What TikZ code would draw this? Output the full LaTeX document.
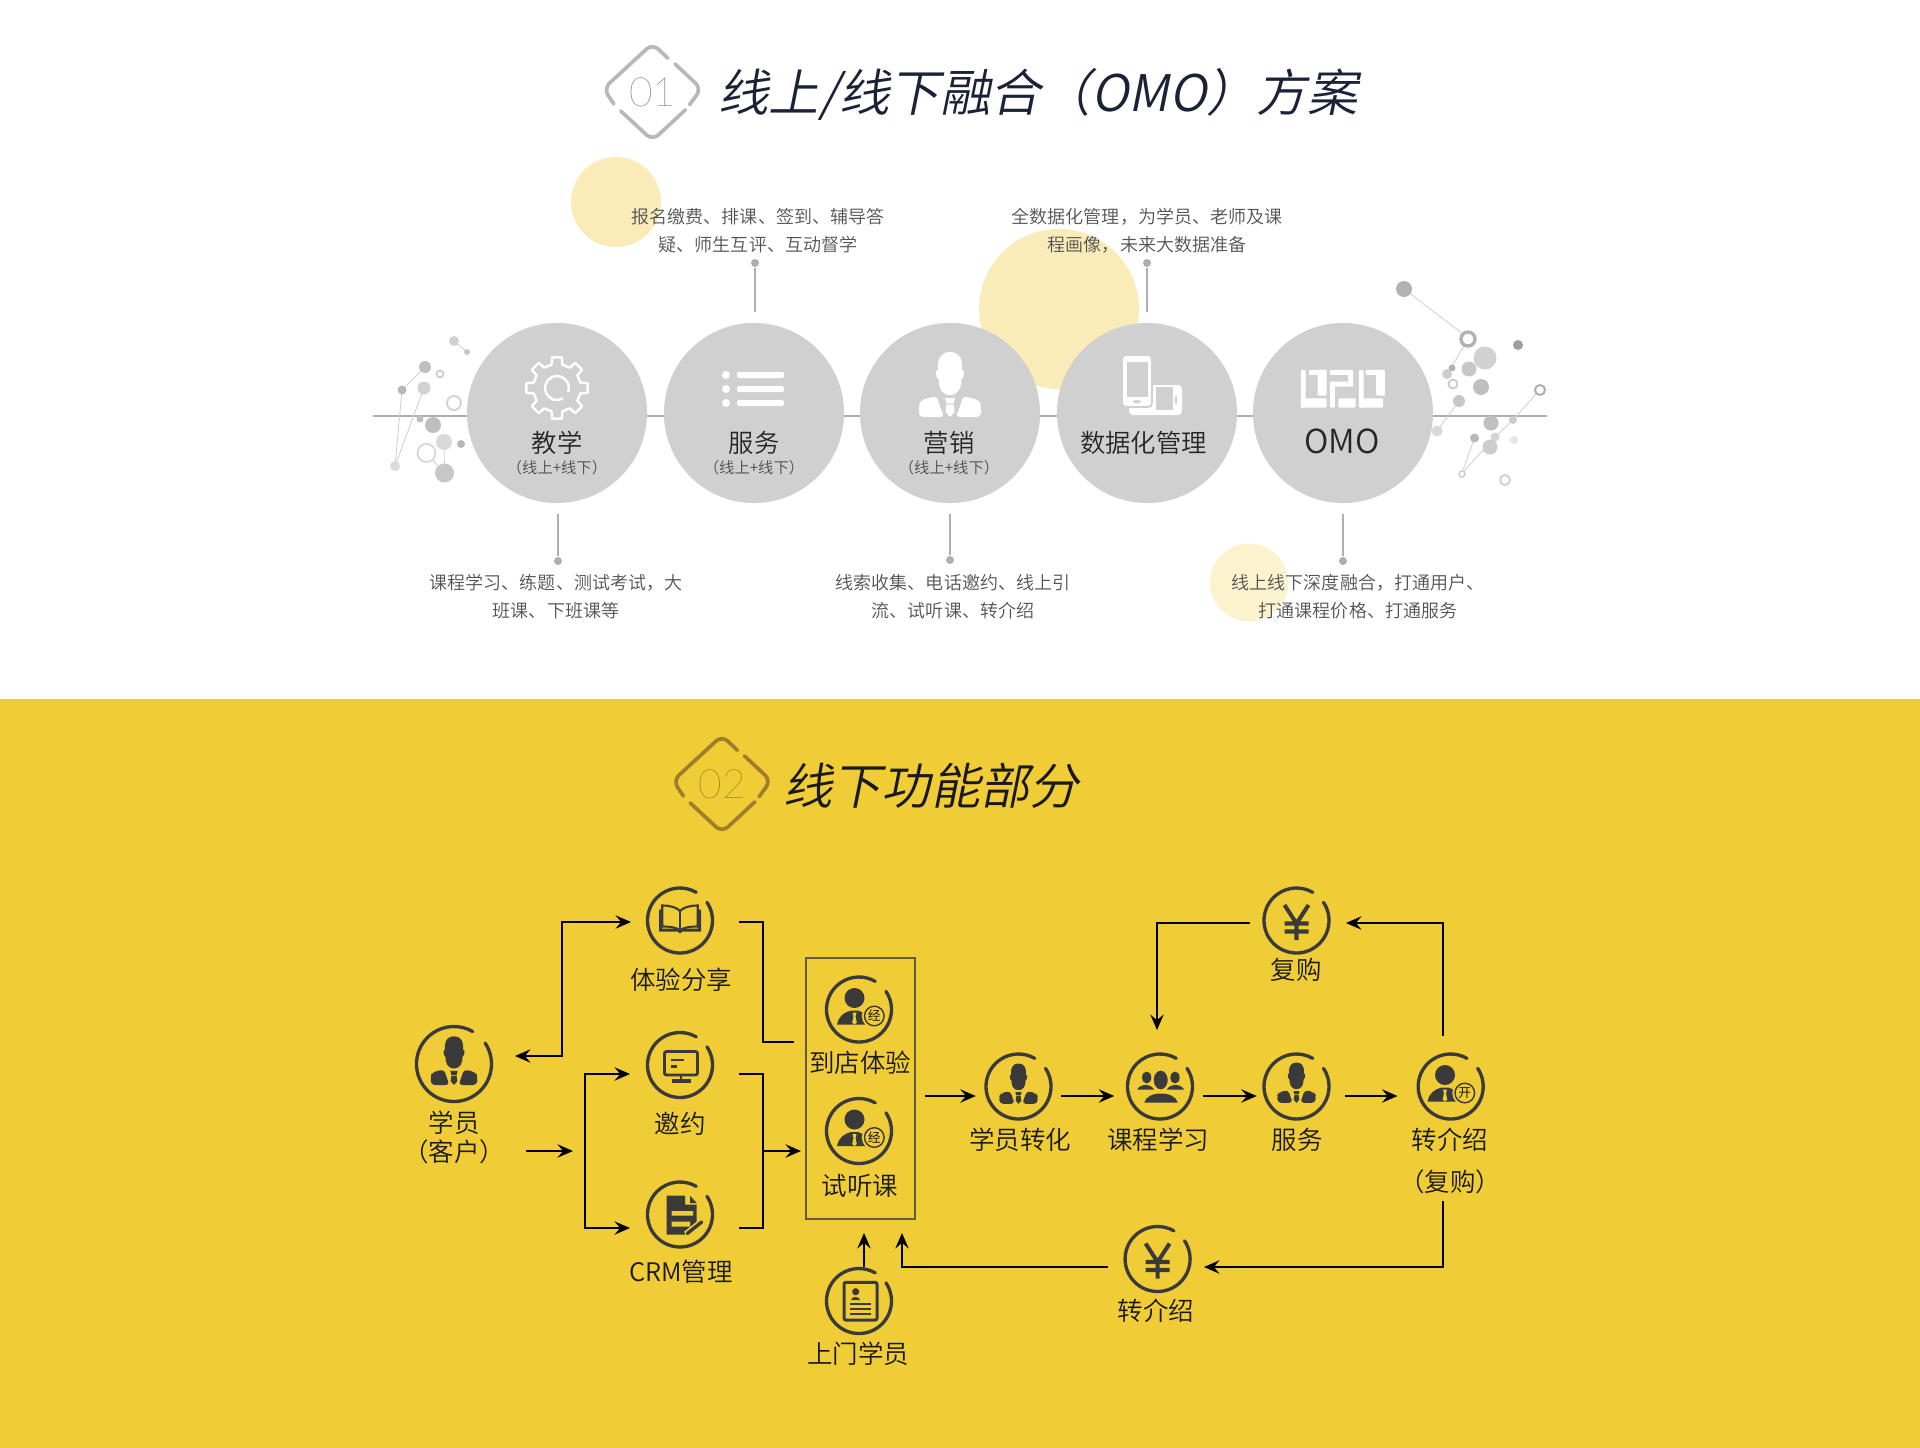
\documentclass[tikz,border=0pt]{standalone}
\usepackage{fontspec}
\setmainfont{Noto Sans CJK SC DemiLight}
\newfontfamily\headfont[FakeSlant=0.2]{Noto Sans CJK SC DemiLight}
\newfontfamily\thinfont{Lato Hairline}
\usetikzlibrary{arrows.meta}
\definecolor{gold}{HTML}{F0CD37}
\definecolor{pale}{HTML}{F9ECB9}
\definecolor{inkdark}{HTML}{3A3A3A}
\definecolor{discgray}{HTML}{D0D0D0}
\definecolor{pingray}{HTML}{AEAEAE}
\definecolor{navy}{HTML}{1A2238}
\definecolor{bronze}{HTML}{9E7D2B}
\tikzset{
  >={Stealth[length=4.4pt,width=3.8pt,inset=1.6pt]},
  disc/.style={circle,fill=discgray,minimum size=1.8cm,inner sep=0pt},
  hub/.style={circle,minimum size=#1,inner sep=0pt},
  pindot/.style={circle,fill=pingray,minimum size=.08cm,inner sep=0pt},
  pinline/.style={draw=pingray,line width=.55pt,shorten >=1mm},
  notetext/.style={align=center,text=black!68,font=\fontsize{5.12}{7.97}\selectfont},
  disctext/.style={text=black!85,font=\fontsize{7.2}{9}\selectfont},
  subtext/.style={text=black!70,font=\fontsize{4.35}{5}\selectfont},
  captext/.style={text=black!90,font=\fontsize{7.25}{9}\selectfont},
  headtext/.style={anchor=west,font=\headfont\fontsize{14.35}{16}\selectfont},
  marktext/.style={font=\thinfont\fontsize{11.5}{13}\selectfont},
  flow/.style={black,line width=.6pt},
  ringline/.style={draw=inkdark,line width=.95pt,line cap=round},
  markline/.style={line width=1.05pt,line cap=round,rounded corners=.8mm},
  ringicon/.pic={
    \draw[ringline] (-34:#1) arc[start angle=-34,end angle=300,radius=#1];
  },
  diamondmark/.pic={
    \draw[markline,pic actions] (-37.5,11.7) -- (-47.5,-3.3) -- (0,-47) -- (15,-32.7);
    \draw[markline,pic actions] (21.8,-27.3) -- (47.5,-3.3) -- (36,12.3);
    \draw[markline,pic actions] (32,17.3) -- (0,47) -- (-31,18.3);
  },
  suitman/.pic={
    \fill[pic actions] (-12,-15) .. controls (-13,-28) and (-8,-33) .. (0,-33)
      .. controls (8,-33) and (13,-28) .. (12,-15) -- (14,-14) -- (13.5,-8) -- (11.5,-6)
      .. controls (11.5,3) and (8,10) .. (0,10) .. controls (-8,10) and (-11.5,3) .. (-11.5,-6)
      -- (-13.5,-8) -- (-14,-14) -- cycle;
    \fill[pic actions,rounded corners=.4mm] (-13,11) -- (-29,15) -- (-31,20) -- (-31,32) -- (-5.5,32) -- (-10,22) -- cycle;
    \fill[pic actions,rounded corners=.4mm] (13,11) -- (29,15) -- (31,20) -- (31,32) -- (5.5,32) -- (10,22) -- cycle;
    \fill[pic actions] (-5,13) -- (5,13) -- (3.5,18.5) -- (-3.5,18.5) -- cycle;
    \fill[pic actions] (-3.5,19.5) -- (3.5,19.5) -- (4.5,27) -- (0,32) -- (-4.5,27) -- cycle;
  },
  agent/.pic={
    \fill[inkdark] (-4.5,-11.5) circle[radius=10];
    \fill[inkdark] (-22,15) .. controls (-20,6) and (-15,3) .. (-8,1) -- (-1,1) .. controls (6,3) and (10,8) .. (12,15) -- cycle;
    \fill[gold] (-6.5,3) -- (-2.5,3) -- (-3.5,7) -- (-2.2,13) -- (-4.5,15) -- (-6.8,13) -- (-5.5,7) -- cycle;
    \fill[gold] (15.3,6.5) circle[radius=12.5];
    \draw[inkdark,line width=.4pt] (15.3,6.5) circle[radius=9.8];
    \node[text=black,inner sep=0pt,font=\fontsize{3.6}{4}\selectfont] (-badge) at (15.3,6.5) {#1};
  },
  yenicon/.pic={
    \draw[inkdark,line width=1.15pt] (-12,-15.5) -- (0,3) -- (12,-15.5) (0,3) -- (0,19.5) (-12,3) -- (12,3) (-12,11) -- (12,11);
  },
  bookicon/.pic={
    \fill[inkdark] (-21,-11) -- (-21,11) -- (-2,11) -- (0,13) -- (2,11) -- (21,11) -- (21,-11) -- (18,-11) -- (18,8) -- (-18,8) -- (-18,-11) -- cycle;
    \filldraw[fill=gold,draw=inkdark,line width=.6pt] (-17.7,-15) .. controls (-10,-15) and (-3,-13) .. (0,-9.5) .. controls (3,-13) and (10,-15) .. (17.7,-15) -- (17.7,6) .. controls (10,6) and (3,7) .. (0,10) .. controls (-3,7) and (-10,6) .. (-17.7,6) -- cycle;
    \draw[inkdark,line width=.6pt] (0,-9.5) -- (0,10);
  },
  screenicon/.pic={
    \draw[inkdark,line width=.8pt,rounded corners=.2mm] (-16.5,-13.5) rectangle (16.5,10);
    \draw[inkdark,line width=.7pt] (-10,-5) -- (3,-5) (-10,1.7) -- (-4,1.7) (0,10) -- (0,15);
    \draw[inkdark,line width=1pt] (-9.5,16) -- (10,16);
  },
  docicon/.pic={
    \fill[inkdark] (-13.3,-18.8) -- (5,-18.8) -- (5,-10) -- (16.7,-10) -- (16.7,10) -- (5,20) -- (-13.3,20) -- cycle;
    \fill[inkdark] (10,-18.8) -- (16.7,-11.5) -- (10,-11.5) -- cycle;
    \fill[gold] (-8.3,-3.5) rectangle (13,1.2) (-8.3,7.2) rectangle (10,12.2);
    \draw[gold,line width=1.9pt] (6,20) -- (23,6.5);
    \draw[inkdark,line width=.95pt,line cap=round] (7.3,19) -- (21.7,7.5);
  },
  cardicon/.pic={
    \draw[inkdark,line width=.85pt,rounded corners=.2mm] (-16.5,-18.7) rectangle (16.5,19);
    \fill[inkdark] (-4.8,-9.3) circle[radius=3.6];
    \fill[inkdark] (-9.5,-1) .. controls (-9,-5) and (-1,-5) .. (-.5,-1) -- cycle;
    \draw[inkdark,line width=.5pt] (-10.5,3.3) -- (10,3.3) (-10.5,8.3) -- (10,8.3) (-10.5,13.3) -- (10,13.3);
  },
  groupicon/.pic={
    \fill[inkdark] (-13.3,-9) ellipse[x radius=4.6,y radius=6];
    \fill[inkdark] (15,-9) ellipse[x radius=4.6,y radius=6];
    \fill[inkdark] (-22.7,3) .. controls (-20,-3) and (-9,-3) .. (-6,3) -- cycle;
    \fill[inkdark] (6.8,3) .. controls (10,-3) and (21,-3) .. (24,3) -- cycle;
    \filldraw[fill=inkdark,draw=gold,line width=.3pt] (.7,-6.5) ellipse[x radius=7.6,y radius=10];
    \fill[inkdark] (-15.7,16) .. controls (-13,4) and (15,4) .. (17.7,16) -- cycle;
  },
}
\begin{document}
\begin{tikzpicture}[x=.01cm,y=-.01cm]
  \useasboundingbox (0,0) rectangle (1920,1448);
  \fill[gold] (0,699) rectangle (1920,1448);

  \fill[pale] (616,202) circle[radius=45];
  \fill[pale] (1059,309) circle[radius=80];
  \fill[pale!70!white] (1249,582.5) circle[radius=39];

  \draw[pingray,line width=.55pt] (373,416) -- (1547,416);

  \foreach \xa/\ya/\xb/\yb in {454/341/467/352,425/367/402/390,402/390/395/466,395/466/424/388,433/460/444.5/473,444.5/473/444/442}
    \draw[black!18,line width=.25pt] (\xa,\ya) -- (\xb,\yb);
  \foreach \x/\y/\r/\c in {454/341/5/18,467/352/3/22,425/367/6/25,402/390/4.5/28,424/388/6.5/18,420/419/3.5/25,433/425/8/25,444/442/8/15,461/444/4/28,395/466/5/14,444.5/473/9.5/22}
    \fill[black!\c] (\x,\y) circle[radius=\r];
  \foreach \x/\y/\r/\c in {440/374/3.5/18,454/403/7/18,426.5/453/9/15}
    \draw[black!\c,line width=.55pt] (\x,\y) circle[radius=\r];

  \foreach \xa/\ya/\xb/\yb in {1404/289/1463/334,1464/346/1447/374,1459/401/1437/431,1536/394/1513/420,1513/420/1495/437,1495/437/1464/471,1463/470/1474.5/438}
    \draw[black!18,line width=.25pt] (\xa,\ya) -- (\xb,\yb);
  \foreach \x/\y/\r/\c in {1404/289/8/30,1485/358/11.5/18,1518/345/5/38,1469/369/7.5/22,1452/368/3.5/30,1447/374/5/20,1481/387/8/25,1459/401/6/22,1437/431/5.5/15,1491/423/7.5/25,1513/420/4/20,1495/437/4.5/17,1514/440/4/11,1474.5/438/4.5/28,1490/447/7.5/20}
    \fill[black!\c] (\x,\y) circle[radius=\r];
  \foreach \x/\y/\r/\c/\w in {1468/339/7/30/.95,1453/384/4.5/20/.55,1540/390/5/32/.55,1462/474/3/20/.4,1505/480/5/18/.55}
    \draw[black!\c,line width=\w pt] (\x,\y) circle[radius=\r];

  \pic[draw=black!28,scale=1.03] at (652.5,92) {diamondmark};
  \node[marktext,text=black!70] (markone) at (652.5,92) {01};
  \node[headtext,text=navy] (headone) at (706,94.5) {线上/线下融合（OMO）方案};

  \node[disc] (teach) at (557,413) {};
  \node[disc] (serve) at (754,413) {};
  \node[disc] (sales) at (950,413) {};
  \node[disc] (data) at (1147,413) {};
  \node[disc] (omo) at (1343,413) {};

  \node[disctext] (teacht) at (557,443) {教学};
  \node[subtext] (teachs) at (557,468) {（线上+线下）};
  \node[disctext] (servet) at (754,443) {服务};
  \node[subtext] (serves) at (754,468) {（线上+线下）};
  \node[disctext] (salest) at (949,443) {营销};
  \node[subtext] (saless) at (949,468) {（线上+线下）};
  \node[disctext] (datat) at (1143.5,443) {数据化管理};
  \node[disctext,font=\fontsize{9.4}{11}\selectfont] (omot) at (1342,441) {OMO};

  \draw[white,line width=.7pt,line join=round,shift={(557,388)}] (-13:24)
    foreach \a in {0,45,...,315} { -- (\a-13:24) -- (\a-9:31) -- (\a+9:31) -- (\a+13:24) } -- cycle;
  \draw[white,line width=.7pt] (557,388) ++(60:12) arc[start angle=60,end angle=380,radius=12];

  \foreach \y in {375,389,403} {
    \fill[white] (726,\y) circle[radius=4];
    \fill[white,rounded corners=.2mm] (737,\y-3) rectangle (784,\y+3);
  }

  \pic[fill=white] at (950,385) {suitman};

  \fill[white,rounded corners=.4mm] (1129,385) rectangle (1182,415);
  \fill[discgray] (1155.6,387) rectangle (1173,410);
  \fill[discgray] (1176,400) ellipse[x radius=1.5,y radius=4];
  \filldraw[fill=white,draw=discgray,line width=.5pt,rounded corners=.4mm] (1122,355) rectangle (1152,407);
  \fill[discgray] (1127,362) rectangle (1148,397);
  \fill[discgray] (1137,401.7) ellipse[x radius=4,y radius=1.7];

  \begin{scope}[shift={(1285,355)},x=.0033333cm,y=-.0033333cm]
    \foreach \xa/\ya/\xb/\yb in {48/45/62/158,48/130/125/158,72/45/125/60,98/45/125/122,135/45/205/60,190/45/205/95,135/80/205/95,135/80/150/158,160/130/212/158,222/45/236/158,222/130/295/158,242/45/300/60,274/45/300/122}
      \fill[white,rounded corners=.1mm] (\xa,\ya) rectangle (\xb,\yb);
  \end{scope}

  \node[pindot] (servedot) at (755,263) {};
  \draw[pinline] (servedot) -- (servedot |- serve.north);
  \node[pindot] (datadot) at (1147,263) {};
  \draw[pinline] (datadot) -- (data.north);
  \node[pindot] (teachdot) at (558,561) {};
  \draw[pinline] (teachdot) -- (teachdot |- teach.south);
  \node[pindot] (salesdot) at (950,560) {};
  \draw[pinline] (salesdot) -- (sales.south);
  \node[pindot] (omodot) at (1343,561) {};
  \draw[pinline] (omodot) -- (omo.south);

  \node[notetext] (servenote) at (758,230.5) {报名缴费、排课、签到、辅导答\\疑、师生互评、互动督学};
  \node[notetext] (datanote) at (1147,230.5) {全数据化管理，为学员、老师及课\\程画像，未来大数据准备};
  \node[notetext] (teachnote) at (556,597) {课程学习、练题、测试考试，大\\班课、下班课等};
  \node[notetext] (salesnote) at (953,597) {线索收集、电话邀约、线上引\\流、试听课、转介绍};
  \node[notetext] (omonote) at (1358,597) {线上线下深度融合，打通用户、\\打通课程价格、打通服务};

  \pic[draw=bronze,scale=1.03] at (722,784) {diamondmark};
  \node[marktext,text=bronze!70!black] (marktwo) at (722,784) {02};
  \node[headtext,text=black!90,font=\headfont\fontsize{14}{16}\selectfont] (headtwo) at (771,786) {线下功能部分};

  \node[hub=.78cm] (student) at (454,1064) {};
  \node[hub=.68cm] (share) at (680,920.5) {};
  \node[hub=.68cm] (invite) at (680,1065) {};
  \node[hub=.68cm] (crm) at (680,1214.5) {};
  \node[hub=.68cm] (store) at (859,1009.5) {};
  \node[hub=.68cm] (trial) at (859,1131) {};
  \node[hub=.68cm] (visit) at (859,1301) {};
  \node[hub=.68cm] (convert) at (1018.5,1086.5) {};
  \node[hub=.68cm] (study) at (1160,1086.5) {};
  \node[hub=.68cm] (care) at (1296.5,1086.5) {};
  \node[hub=.68cm] (refer) at (1450.7,1086.5) {};
  \node[hub=.68cm] (rebuy) at (1296.5,920.5) {};
  \node[hub=.68cm] (payout) at (1157.6,1259) {};

  \pic at (student) {ringicon=37.5};
  \foreach \name in {share,invite,crm,store,trial,visit,convert,study,care,refer,rebuy,payout}
    \pic at (\name) {ringicon=32.5};

  \pic[fill=inkdark,scale=.75] at (454,1061) {suitman};
  \pic[fill=inkdark,scale=.62] at (1018.5,1084) {suitman};
  \pic[fill=inkdark,scale=.62] at (1296.5,1083) {suitman};
  \pic at (share) {bookicon};
  \pic at (681,1065) {screenicon};
  \pic at (crm) {docicon};
  \pic at (860.5,1301) {cardicon};
  \pic at (study) {groupicon};
  \pic at (rebuy) {yenicon};
  \pic at (payout) {yenicon};
  \pic (storeman) at (store) {agent=经};
  \pic (trialman) at (trial) {agent=经};
  \pic (referman) at (1449.5,1086.5) {agent=开};

  \node[captext] (studentt) at (454,1123) {学员};
  \node[captext] (studentu) at (454,1152) {（客户）};
  \node[captext] (sharet) at (681,980) {体验分享};
  \node[captext] (invitet) at (680,1124) {邀约};
  \node[captext] (crmt) at (681,1272) {CRM管理};
  \node[captext] (storet) at (860,1063) {到店体验};
  \node[captext] (trialt) at (860,1186) {试听课};
  \node[captext] (visitt) at (858,1354) {上门学员};
  \node[captext] (convertt) at (1020,1140) {学员转化};
  \node[captext] (studyt) at (1158,1140) {课程学习};
  \node[captext] (caret) at (1297,1140) {服务};
  \node[captext] (refert) at (1450,1140) {转介绍};
  \node[captext] (referu) at (1450,1182) {（复购）};
  \node[captext] (rebuyt) at (1296,970) {复购};
  \node[captext] (payoutt) at (1156,1311) {转介绍};

  \node[draw={rgb,255:red,100;green,92;blue,60},line width=.57pt,minimum width=1.09cm,minimum height=2.6cm,inner sep=0pt] (trialbox) at (860.5,1088.5) {};

  \coordinate (rowline) at (0,1096);
  \coordinate (studentout) at (515,1056);
  \coordinate (sharein) at (631,922);
  \coordinate (studentfeed) at (526,1151);
  \coordinate (bracketin) at (573,1151);
  \coordinate (invitein) at (630,1074);
  \coordinate (crmin) at (630,1228);
  \coordinate (shareout) at (739,922);
  \coordinate (boxtop) at (794,1042);
  \coordinate (inviteout) at (739,1074);
  \coordinate (crmout) at (739,1228);
  \coordinate (boxfeed) at (763,1151);
  \coordinate (boxin) at (801,1151);
  \coordinate (visitout) at (864,1267);
  \coordinate (visitin) at (864,1233);
  \coordinate (payin) at (902,1233);
  \coordinate (payoutout) at (1108,1267);
  \coordinate (payoutin) at (1204,1267);
  \coordinate (referlow) at (1443,1201);
  \coordinate (referup) at (1443,1036);
  \coordinate (rebuyin) at (1346,923);
  \coordinate (rebuyout) at (1250,923);
  \coordinate (studyin) at (1157,1030);

  \draw[flow,<->] (studentout) -- ++(47,0) |- (sharein);
  \draw[flow,->] (studentfeed) -- (bracketin);
  \draw[flow,<->] (invitein) -- ++(-45,0) |- (crmin);
  \draw[flow] (shareout) -- ++(24,0) |- (boxtop);
  \draw[flow] (inviteout) -- ++(24,0) |- (crmout);
  \draw[flow,->] (boxfeed) -- (boxin);
  \draw[flow,->] (visitout) -- (visitin);
  \draw[flow,->] (payoutout) -| (payin);
  \draw[flow,->] (referlow) |- (payoutin);
  \draw[flow,->] (referup) |- (rebuyin);
  \draw[flow,->] (rebuyout) -| (studyin);
  \draw[flow,->,shorten <=.9mm,shorten >=.8mm] (trialbox.east |- rowline) -- (convert.west |- rowline);
  \draw[flow,->,shorten <=.8mm,shorten >=1.1mm] (convert.east |- rowline) -- (study.west |- rowline);
  \draw[flow,->,shorten <=.8mm,shorten >=.5mm] (study.east |- rowline) -- (care.west |- rowline);
  \draw[flow,->,shorten <=1.35mm,shorten >=1.85mm] (care.east |- rowline) -- (refer.west |- rowline);
\end{tikzpicture}
\end{document}
